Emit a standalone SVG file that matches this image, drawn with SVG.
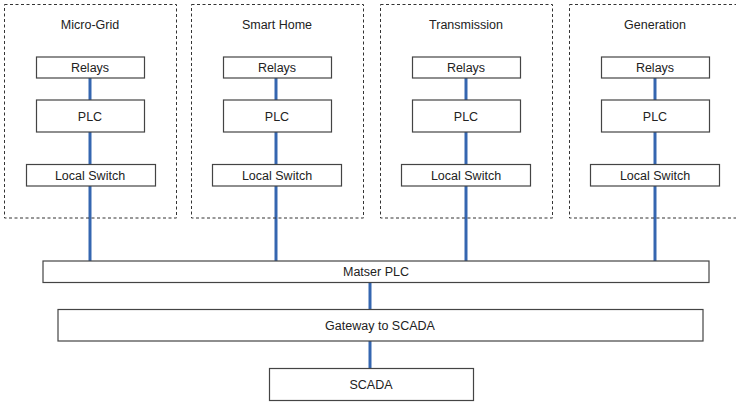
<svg xmlns="http://www.w3.org/2000/svg" width="736" height="403" viewBox="0 0 736 403">
<style>
.area{fill:none;stroke:#333;stroke-width:1;stroke-dasharray:3,2.5}
.box{fill:#fff;stroke:#444;stroke-width:1.2}
text{font-family:"Liberation Sans",Arial,sans-serif;font-size:12.5px;fill:#222;text-anchor:middle}
.link{stroke:#3566b0;stroke-width:3;fill:none}
</style>
<rect width="736" height="403" fill="#fff"/>
<g id="connectors">
<line class="link" x1="90" y1="78" x2="90" y2="261"/>
<line class="link" x1="276" y1="78" x2="276" y2="261"/>
<line class="link" x1="466" y1="78" x2="466" y2="261"/>
<line class="link" x1="655" y1="78" x2="655" y2="261"/>
<line class="link" x1="370" y1="282" x2="370" y2="368"/>
</g>
<g id="micro-grid">
<rect class="area" x="4.5" y="4.5" width="172" height="213.5"/>
<text x="90" y="29">Micro-Grid</text>
<rect class="box" x="36.5" y="57" width="108" height="21"/><text x="90" y="72">Relays</text>
<rect class="box" x="36.5" y="100" width="108" height="32"/><text x="90" y="120.5">PLC</text>
<rect class="box" x="26.5" y="164.5" width="129" height="21.5"/><text x="90" y="179.5">Local Switch</text>
</g>
<g id="smart-home">
<rect class="area" x="191.5" y="4.5" width="172" height="213.5"/>
<text x="277" y="29">Smart Home</text>
<rect class="box" x="223.5" y="57" width="108" height="21"/><text x="277" y="72">Relays</text>
<rect class="box" x="223.5" y="100" width="108" height="32"/><text x="277" y="120.5">PLC</text>
<rect class="box" x="212.5" y="164.5" width="129" height="21.5"/><text x="277" y="179.5">Local Switch</text>
</g>
<g id="transmission">
<rect class="area" x="380.5" y="4.5" width="172" height="213.5"/>
<text x="466" y="29">Transmission</text>
<rect class="box" x="412.5" y="57" width="108" height="21"/><text x="466" y="72">Relays</text>
<rect class="box" x="412.5" y="100" width="108" height="32"/><text x="466" y="120.5">PLC</text>
<rect class="box" x="401.5" y="164.5" width="129" height="21.5"/><text x="466" y="179.5">Local Switch</text>
</g>
<g id="generation">
<rect class="area" x="569.5" y="4.5" width="172" height="213.5"/>
<text x="655" y="29">Generation</text>
<rect class="box" x="601.5" y="57" width="108" height="21"/><text x="655" y="72">Relays</text>
<rect class="box" x="601.5" y="100" width="108" height="32"/><text x="655" y="120.5">PLC</text>
<rect class="box" x="590.5" y="164.5" width="129" height="21.5"/><text x="655" y="179.5">Local Switch</text>
</g>
<g id="master-plc">
<rect class="box" x="43" y="261" width="666" height="21.5"/><text x="376" y="276">Matser PLC</text>
</g>
<g id="gateway">
<rect class="box" x="58" y="309.5" width="645" height="31.5"/><text x="380" y="329.5">Gateway to SCADA</text>
</g>
<g id="scada">
<rect class="box" x="269.5" y="368.5" width="204" height="32"/><text x="371" y="389">SCADA</text>
</g>
</svg>
